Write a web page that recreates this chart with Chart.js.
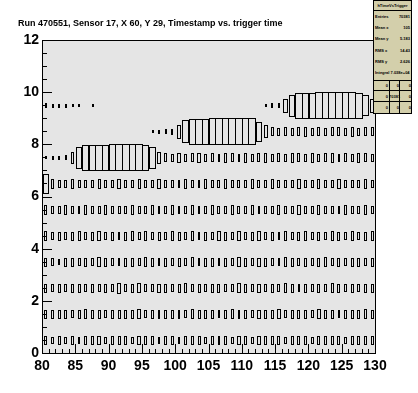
<!DOCTYPE html>
<html>
<head>
<meta charset="utf-8">
<script src="https://cdn.jsdelivr.net/npm/chart.js@4.4.0/dist/chart.umd.min.js"></script>
<style>
  html, body { margin: 0; padding: 0; background: #fff; }
  #wrap { position: relative; width: 418px; height: 393px; }
  #stats { position: absolute; left: 373px; top: 0; width: 39px; height: 114px; background: #d3cfab;
           border: 1px solid #000; box-sizing: border-box;
           font: bold 4px "Liberation Sans", Arial, sans-serif; color: #000; }
  #stats div { position: absolute; white-space: nowrap; line-height: 5px; }
  #stats .ln { height: 0; border-top: 1px solid #000; left: 0; right: 0; }
  #stats .vl { width: 0; border-left: 1px solid #000; top: 80px; bottom: 0; }
</style>
</head>
<body>
<div id="wrap">
  <canvas id="c" width="418" height="393"></canvas>
  <div id="stats"></div>
</div>
<script>
// bin low edges: x = trigger time, y = timestamp
const xBins = [80,81,82,83,84,85,86,87,88,89,90,91,92,93,94,95,96,97,98,99,
               100,101,102,103,104,105,106,107,108,109,110,111,112,113,114,115,116,117,118,119,
               120,121,122,123,124,125,126,127,128,129];
const yBins = [0,1,2,3,4,5,6,7,8,9];

// bin contents for each y bin (fullest bin = 100)
const row0 = [32,26,30,26,34,26,30,28,34,26,32,28,30,26,34,28,30,26,32,30,26,34,28,30,26,34,28,30,26,32,30,26,34,28,30,32,26,30,28,34,26,30,32,28,30,26,34,28,30,32];
const row1 = [30,28,30,32,26,30,34,28,30,26,32,30,28,30,34,26,30,28,32,30,28,26,34,30,28,32,26,30,34,28,30,26,32,28,30,34,26,28,32,30,26,34,28,30,26,32,30,28,34,30];
const row2 = [30,26,32,28,30,30,26,32,28,30,26,40,26,30,34,28,26,32,30,28,30,34,26,30,28,32,30,26,28,34,30,28,32,26,30,28,34,30,26,32,28,30,26,34,30,28,32,26,30,32];
const row3 = [30,28,20,30,32,28,30,26,34,30,28,26,32,30,28,34,30,26,32,28,30,26,34,28,30,32,26,30,28,34,30,26,32,30,28,26,34,30,28,32,26,30,34,28,30,26,32,30,28,30];
const row4 = [32,26,30,28,30,32,26,30,34,28,30,26,30,32,28,34,26,30,28,32,30,26,34,28,30,26,32,30,28,34,26,30,32,28,30,26,34,28,30,32,26,30,28,34,30,26,32,28,30,32];
const row5 = [34,30,28,32,30,26,34,28,30,32,26,30,28,34,30,26,32,28,30,34,26,30,32,28,26,34,30,28,32,30,26,34,28,30,26,32,30,28,34,26,30,32,28,30,26,34,30,28,32,30];
const row6 = [75,34,28,30,32,28,30,26,32,30,28,34,26,30,32,28,30,34,26,30,28,32,30,26,34,28,30,32,26,30,28,34,30,26,32,28,30,26,34,30,28,32,26,30,34,28,30,26,32,30];
const row7 = [8,12,14,16,42,82,95,95,95,95,100,100,100,100,100,97,83,45,30,26,32,28,30,34,26,30,28,32,30,26,34,28,30,32,26,30,28,34,30,26,32,28,30,34,26,30,28,32,30,26];
const row8 = [0,0,0,0,0,0,0,0,0,0,0,0,0,0,0,0,8,12,14,18,52,83,98,98,98,100,100,100,100,100,100,100,72,46,30,28,32,26,30,34,28,30,26,32,30,28,34,26,30,32];
const row9 = [14,12,10,10,8,8,0,8,0,0,0,0,0,0,0,0,0,0,0,0,0,0,0,0,0,0,0,0,0,0,0,0,0,8,14,16,51,82,96,96,96,100,100,100,100,100,100,96,77,49];
const rows = [row0,row1,row2,row3,row4,row5,row6,row7,row8,row9];
const zMax = 100;

const xTicks = [80,85,90,95,100,105,110,115,120,125,130];
const yTicks = [0,2,4,6,8,10,12];

const title = 'Run 470551, Sensor 17, X 60, Y 29, Timestamp vs. trigger time';
const statsName = 'hTimeVsTrigger';
const statsLabels = ['Entries', 'Mean x', 'Mean y', 'RMS x', 'RMS y'];
const statsValues = ['70381', '105', '5.183', '14.43', '2.626'];
const statsIntegral = 'Integral 7.038e+04';
const statsGrid = [['0','0','0'], ['0','70381','0'], ['0','0','0']];

// one point per filled bin, at the bin centre
const points = [];
rows.forEach((row, r) => {
    row.forEach((v, i) => {
        if (v > 0) points.push({ x: xBins[i] + 0.5, y: yBins[r] + 0.5, v: v });
    });
});

// ROOT style "BOX" drawing: box size proportional to content
const boxPlugin = {
    id: 'boxes',
    beforeDatasetsDraw(chart) {
        const { ctx, chartArea: a } = chart;
        ctx.save();
        ctx.fillStyle = '#e5e5e5';
        ctx.fillRect(a.left, a.top, a.right - a.left, a.bottom - a.top);
        ctx.restore();
    },
    afterDatasetsDraw(chart) {
        const { ctx, scales: { x, y } } = chart;
        ctx.save();
        ctx.strokeStyle = '#000';
        ctx.lineWidth = 1;
        chart.data.datasets[0].data.forEach(p => {
            const f = p.v / zMax;
            let x0 = Math.round(x.getPixelForValue(p.x - 0.5 * f));
            let x1 = Math.round(x.getPixelForValue(p.x + 0.5 * f));
            let y0 = Math.round(y.getPixelForValue(p.y + 0.5 * f));
            let y1 = Math.round(y.getPixelForValue(p.y - 0.5 * f));
            if (x1 - x0 < 1) x1 = x0 + 1;
            if (y1 - y0 < 1) y1 = y0 + 1;
            ctx.strokeRect(x0 + 0.5, y0 + 0.5, x1 - x0, y1 - y0);
        });
        ctx.restore();
    },
    afterDraw(chart) {
        const { ctx, chartArea: a, scales: { x, y } } = chart;
        ctx.save();
        ctx.strokeStyle = '#000';
        ctx.lineWidth = 1;
        ctx.strokeRect(a.left + 0.5, a.top + 0.5, a.right - a.left, a.bottom - a.top);
        ctx.beginPath();
        // inward tick marks
        for (let v = 0; v <= 12; v += 0.5) {
            const py = Math.round(y.getPixelForValue(v)) + 0.5;
            const len = v % 2 === 0 ? 10 : 5;
            ctx.moveTo(a.left, py);
            ctx.lineTo(a.left + len, py);
        }
        for (let v = 80; v <= 130; v += 1) {
            const px = Math.round(x.getPixelForValue(v)) + 0.5;
            const len = v % 5 === 0 ? 9 : 4;
            ctx.moveTo(px, a.bottom);
            ctx.lineTo(px, a.bottom - len);
        }
        ctx.stroke();
        ctx.fillStyle = '#000';
        ctx.font = 'bold 9px "Liberation Sans", Arial, sans-serif';
        ctx.textBaseline = 'alphabetic';
        ctx.fillText(title, 18, 26);
        ctx.restore();
    }
};

const axisFont = { family: '"Liberation Sans", Arial, sans-serif', size: 14, weight: 'bold' };

new Chart(document.getElementById('c'), {
    type: 'scatter',
    data: {
        datasets: [{ data: points, pointRadius: 0, pointHoverRadius: 0, showLine: false }]
    },
    options: {
        responsive: false,
        animation: false,
        layout: { padding: { top: 40, right: 43, left: 0, bottom: 0 } },
        plugins: { legend: { display: false }, tooltip: { enabled: false } },
        scales: {
            x: {
                type: 'linear', min: 80, max: 130,
                afterFit: s => { s.height = 40; },
                afterBuildTicks: s => { s.ticks = xTicks.map(v => ({ value: v })); },
                grid: { display: false, drawTicks: false },
                border: { display: false },
                ticks: { color: '#000', font: axisFont, padding: 5, maxRotation: 0, autoSkip: false }
            },
            y: {
                type: 'linear', min: 0, max: 12,
                afterFit: s => { s.width = 42; },
                afterBuildTicks: s => { s.ticks = yTicks.map(v => ({ value: v })); },
                grid: { display: false, drawTicks: false },
                border: { display: false },
                ticks: { color: '#000', font: axisFont, padding: 3, autoSkip: false }
            }
        }
    },
    plugins: [boxPlugin]
});

// statistics box
const stats = document.getElementById('stats');
function addText(txt, left, top, align, width) {
    const d = document.createElement('div');
    d.textContent = txt;
    d.style.left = left + 'px';
    d.style.top = top + 'px';
    if (width) { d.style.width = width + 'px'; d.style.textAlign = align; }
    stats.appendChild(d);
}
function addLine(top) {
    const d = document.createElement('div');
    d.className = 'ln';
    d.style.top = top + 'px';
    stats.appendChild(d);
}
addText(statsName, 0, 2, 'center', 37);
addLine(9);
statsLabels.forEach((lab, i) => {
    addText(lab, 1, 13 + i * 11.2, 'left', 20);
    addText(statsValues[i], 16, 13 + i * 11.2, 'right', 20);
});
addText(statsIntegral, 1, 69, 'left', 36);
addLine(79);
addLine(89);
addLine(100);
[15, 25].forEach(l => {
    const d = document.createElement('div');
    d.className = 'vl';
    d.style.left = l + 'px';
    d.style.top = '79px';
    stats.appendChild(d);
});
const cellL = [0, 15, 25], cellW = [14, 10, 12];
statsGrid.forEach((r, ri) => {
    r.forEach((t, ci) => {
        addText(t, cellL[ci], 82 + ri * 10.8, 'right', cellW[ci]);
    });
});
</script>
</body>
</html>
